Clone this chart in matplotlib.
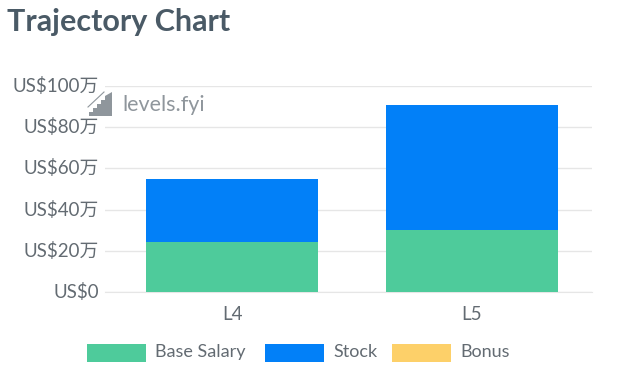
import matplotlib
matplotlib.use("Agg")
import matplotlib.pyplot as plt
from matplotlib.patches import Rectangle, Polygon
from matplotlib.lines import Line2D
from matplotlib.transforms import ScaledTranslation

plt.rcParams['font.family'] = ['Lato', 'Noto Sans CJK SC', 'DejaVu Sans']

levels = ["L4", "L5"]
base_salary = [24.3, 30]
stock = [30.6, 60.8]
bonus = [0, 0]
tick_values = [0, 20, 40, 60, 80, 100]
tick_labels = ["US$0", "US$20万", "US$40万", "US$60万", "US$80万", "US$100万"]
legend_labels = ["Base Salary", "Stock", "Bonus"]
colors = ["#4ecb9b", "#0280f8", "#fdd069"]

W, H = 630, 381
text_color = '#636b72'
fig = plt.figure(figsize=(W/100, H/100), dpi=100)
ax = fig.add_axes([105/W, 1-292/H, (592-105)/W, (292-86)/H])
x = [0, 1]
bw = 172/240
ax.bar(x, base_salary, bw, color=colors[0], zorder=3)
ax.bar(x, stock, bw, bottom=base_salary, color=colors[1], zorder=3)
ax.bar(x, bonus, bw, bottom=[a+b for a, b in zip(base_salary, stock)], color=colors[2], zorder=3)
ax.set_xlim(-127/240, 1.5)
ax.set_ylim(0, 100)
ax.set_xticks(x, levels)
ax.set_yticks(tick_values, tick_labels)
ax.grid(axis='y', color='#e6e6e6', lw=1, zorder=0)
ax.tick_params(length=0, labelsize=13.5, labelcolor=text_color, pad=4.5)
ax.tick_params(axis='x', pad=10)
shift = ScaledTranslation(0, 1.5/100, fig.dpi_scale_trans)
for lab in ax.get_yticklabels():
    lab.set_transform(lab.get_transform() + shift)
for s in ['top', 'right', 'left']:
    ax.spines[s].set_visible(False)
ax.spines['bottom'].set_color('#e6e6e6')

fig.text(7/W, 1-22/H, "Trajectory Chart", fontsize=22, fontweight='bold', color='#4a5a66', va='center')

# watermark
fig.text(122/W, 1-105/H, "levels.fyi", fontsize=15.5, color='#8f969c', va='center')
steps = [(89, 116), (89, 112), (93, 112), (93, 108), (97, 108), (97, 104), (101, 104),
         (101, 100), (105, 100), (105, 96), (112, 92), (112, 116)]
fig.add_artist(Polygon([(a/W, 1-b/H) for a, b in steps], transform=fig.transFigure, color='#8f969c', lw=0))
fig.add_artist(Line2D([88/W, 104/W], [1-107/H, 1-92/H], transform=fig.transFigure, color='#8f969c', lw=0.8))

# legend
for (x0, w, tx), lab, c in zip([(87, 59, 155), (265, 59, 333), (392, 59, 460)], legend_labels, colors):
    fig.add_artist(Rectangle((x0/W, 1-362/H), w/W, 18/H, transform=fig.transFigure, color=c, lw=0))
    fig.text(tx/W, 1-352/H, lab, fontsize=13, color=text_color, va='center')

fig.savefig("out.png", dpi=100)
